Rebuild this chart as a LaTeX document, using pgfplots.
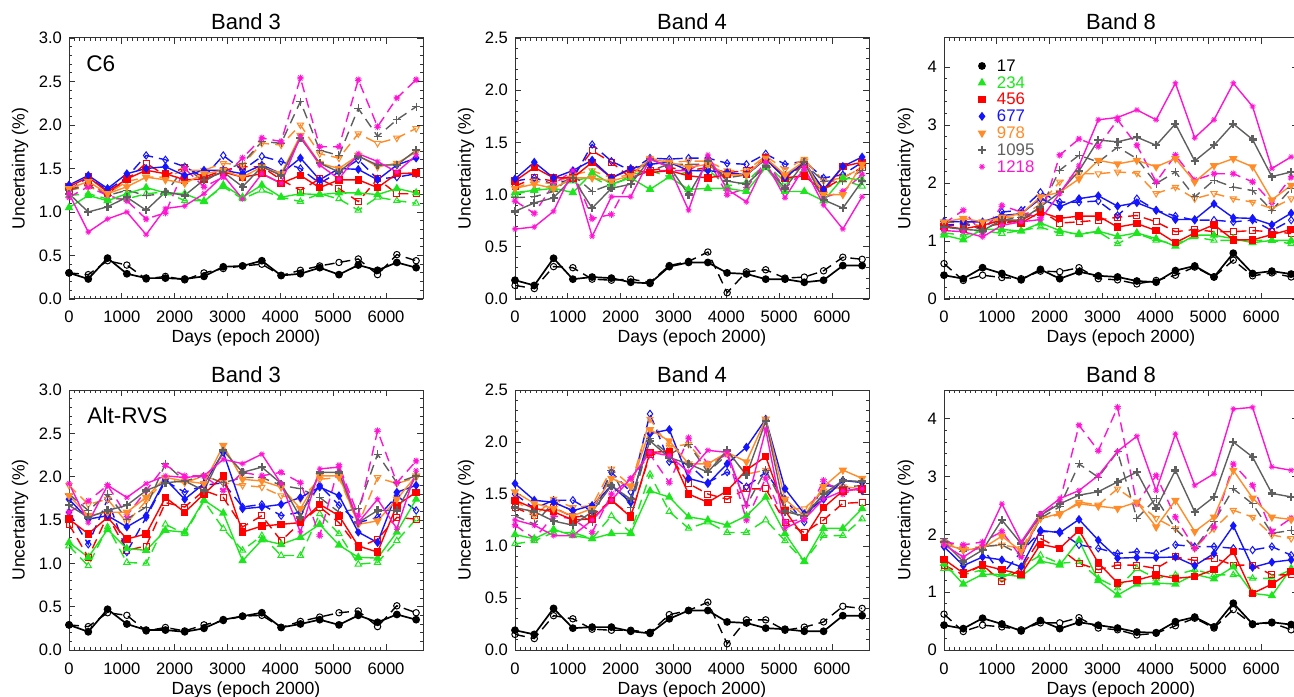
\documentclass[border=0pt]{standalone}
\usepackage{fontspec}
\setmainfont{Liberation Sans}
\usepackage{pgfplots}
\usepackage{pgfplotstable}
\pgfplotsset{compat=1.18}

\definecolor{c17}{RGB}{0,0,0}
\definecolor{c234}{RGB}{30,230,30}
\definecolor{c456}{RGB}{255,0,0}
\definecolor{c677}{RGB}{20,20,255}
\definecolor{c978}{RGB}{255,140,40}
\definecolor{c1095}{RGB}{95,95,95}
\definecolor{c1218}{RGB}{255,20,210}

% one row per series, transposed below
\pgfplotstableread{
series c0 c1 c2 c3 c4 c5 c6 c7 c8 c9 c10 c11 c12 c13 c14 c15 c16 c17 c18
d 0 365 730 1095 1460 1825 2190 2555 2920 3285 3650 4015 4380 4745 5110 5475 5840 6205 6570
s17 0.30 0.23 0.47 0.29 0.24 0.24 0.23 0.26 0.37 0.38 0.44 0.27 0.29 0.36 0.28 0.39 0.33 0.42 0.36
o17 0.30 0.28 0.44 0.39 0.23 0.26 0.22 0.30 0.35 0.38 0.40 0.27 0.33 0.38 0.42 0.46 0.28 0.51 0.44
s234 1.05 1.19 1.13 1.21 1.28 1.22 1.21 1.12 1.31 1.17 1.31 1.17 1.21 1.20 1.22 1.22 1.20 1.27 1.22
o234 1.19 1.21 1.15 1.15 1.21 1.23 1.13 1.13 1.29 1.15 1.25 1.17 1.12 1.21 1.15 1.02 1.17 1.13 1.10
s456 1.29 1.40 1.23 1.38 1.48 1.44 1.37 1.38 1.46 1.40 1.44 1.33 1.42 1.28 1.37 1.37 1.28 1.44 1.45
o456 1.25 1.33 1.21 1.37 1.56 1.42 1.51 1.40 1.48 1.52 1.52 1.37 1.25 1.38 1.27 1.12 1.38 1.21 1.21
s677 1.31 1.42 1.27 1.44 1.50 1.52 1.42 1.48 1.48 1.44 1.54 1.44 1.62 1.37 1.50 1.49 1.37 1.54 1.62
o677 1.25 1.40 1.25 1.40 1.65 1.60 1.52 1.40 1.65 1.48 1.64 1.58 1.50 1.33 1.46 1.60 1.38 1.40 1.44
s978 1.27 1.35 1.21 1.29 1.40 1.37 1.33 1.44 1.48 1.40 1.52 1.44 1.88 1.56 1.50 1.65 1.52 1.56 1.69
o978 1.25 1.29 1.21 1.35 1.40 1.40 1.48 1.48 1.56 1.54 1.79 1.77 2.00 1.67 1.62 1.90 1.79 1.85 1.96
s1095 1.21 1.00 1.06 1.17 1.02 1.23 1.19 1.37 1.46 1.29 1.52 1.42 1.85 1.56 1.46 1.64 1.54 1.54 1.71
o1095 1.25 1.31 1.19 1.25 1.19 1.21 1.52 1.35 1.48 1.56 1.81 1.79 2.27 1.71 1.65 2.19 1.87 2.06 2.21
s1218 1.21 0.77 0.92 1.00 0.74 1.04 1.07 1.21 1.42 1.15 1.44 1.33 1.87 1.54 1.38 1.67 1.58 1.46 1.65
o1218 1.17 1.29 1.19 1.13 0.92 0.99 1.50 1.29 1.40 1.62 1.85 1.81 2.54 1.75 1.75 2.52 1.98 2.31 2.52
}\rawA

\pgfplotstableread{
series c0 c1 c2 c3 c4 c5 c6 c7 c8 c9 c10 c11 c12 c13 c14 c15 c16 c17 c18
d 0 365 730 1095 1460 1825 2190 2555 2920 3285 3650 4015 4380 4745 5110 5475 5840 6205 6570
s17 0.18 0.13 0.39 0.19 0.21 0.20 0.16 0.15 0.31 0.35 0.35 0.25 0.24 0.19 0.19 0.16 0.18 0.32 0.32
o17 0.13 0.10 0.31 0.30 0.19 0.18 0.19 0.16 0.32 0.36 0.45 0.06 0.26 0.28 0.20 0.21 0.27 0.40 0.38
s234 1.02 1.04 1.06 1.02 1.21 1.10 1.16 1.05 1.17 1.05 1.06 1.06 1.03 1.26 1.03 1.03 0.94 1.16 1.14
o234 1.00 1.05 1.09 1.13 1.17 1.07 1.19 1.23 1.17 1.22 1.24 1.08 1.12 1.30 1.12 1.24 1.05 1.14 1.08
s456 1.13 1.26 1.16 1.16 1.31 1.16 1.24 1.21 1.23 1.18 1.16 1.19 1.19 1.35 1.16 1.18 1.03 1.27 1.31
o456 1.08 1.16 1.13 1.18 1.42 1.31 1.16 1.23 1.26 1.23 1.26 1.21 1.23 1.34 1.16 1.29 1.05 1.16 1.26
s677 1.15 1.31 1.16 1.23 1.33 1.16 1.25 1.29 1.31 1.23 1.23 1.21 1.19 1.34 1.16 1.31 1.05 1.27 1.36
o677 1.13 1.16 1.10 1.15 1.48 1.32 1.23 1.35 1.34 1.35 1.35 1.30 1.29 1.39 1.29 1.32 1.16 1.19 1.31
s978 1.06 1.10 1.06 1.16 1.16 1.13 1.18 1.34 1.31 1.26 1.29 1.19 1.19 1.35 1.19 1.32 1.00 1.00 1.29
o978 1.06 1.13 1.10 1.19 1.23 1.16 1.19 1.35 1.31 1.32 1.32 1.23 1.23 1.37 1.24 1.34 1.13 1.16 1.26
s1095 0.84 0.92 0.97 1.16 0.87 1.06 1.10 1.34 1.27 1.00 1.32 1.13 1.10 1.27 1.06 1.31 0.95 0.87 1.13
o1095 0.97 0.98 1.03 1.19 1.03 1.10 1.16 1.23 1.29 1.29 1.29 1.16 1.19 1.34 1.19 1.29 1.13 1.13 1.23
s1218 0.67 0.69 0.84 1.23 0.60 0.98 0.98 1.34 1.26 0.85 1.38 1.05 0.93 1.31 0.97 1.26 0.90 0.67 0.98
o1218 0.94 0.82 1.10 1.23 0.77 0.81 1.16 1.23 1.23 1.23 1.34 1.00 1.06 1.32 1.06 1.23 0.97 1.03 1.19
}\rawB

\pgfplotstableread{
series c0 c1 c2 c3 c4 c5 c6 c7 c8 c9 c10 c11 c12 c13 c14 c15 c16 c17 c18
d 0 365 730 1095 1460 1825 2190 2555 2920 3285 3650 4015 4380 4745 5110 5475 5840 6205 6570
s17 0.41 0.35 0.54 0.44 0.33 0.51 0.35 0.47 0.40 0.38 0.31 0.29 0.49 0.57 0.38 0.79 0.44 0.48 0.43
o17 0.61 0.32 0.41 0.37 0.35 0.48 0.47 0.54 0.35 0.33 0.26 0.32 0.41 0.55 0.38 0.67 0.40 0.45 0.38
s234 1.10 1.02 1.20 1.20 1.17 1.31 1.18 1.11 1.17 1.08 1.14 1.04 0.91 1.10 1.10 1.04 0.97 1.01 1.01
o234 1.14 1.10 1.18 1.13 1.18 1.24 1.13 1.13 1.16 0.95 1.13 1.01 0.95 1.07 1.01 1.01 1.01 1.01 0.95
s456 1.25 1.21 1.27 1.36 1.31 1.50 1.39 1.43 1.43 1.24 1.30 1.18 0.97 1.14 1.28 1.02 1.02 1.11 1.20
o456 1.24 1.30 1.24 1.30 1.36 1.53 1.31 1.33 1.36 1.41 1.44 1.33 1.16 1.20 1.16 1.16 1.18 1.16 1.13
s677 1.34 1.33 1.33 1.44 1.47 1.73 1.59 1.73 1.78 1.60 1.66 1.53 1.37 1.37 1.64 1.40 1.39 1.28 1.48
o677 1.27 1.30 1.21 1.50 1.53 1.84 1.67 1.67 1.69 1.44 1.73 1.53 1.43 1.36 1.36 1.33 1.36 1.18 1.36
s978 1.33 1.39 1.33 1.41 1.47 1.76 1.84 2.07 2.39 2.33 2.39 2.28 2.42 2.02 2.30 2.42 2.28 1.71 1.96
o978 1.30 1.36 1.24 1.41 1.41 1.64 2.02 2.16 2.16 2.19 2.17 1.82 1.93 1.73 1.82 1.73 1.67 1.56 1.73
s1095 1.24 1.20 1.18 1.36 1.36 1.59 1.84 2.21 2.74 2.71 2.79 2.65 3.02 2.38 2.65 3.02 2.75 2.11 2.19
o1095 1.33 1.33 1.18 1.36 1.41 1.56 2.22 2.48 2.36 2.62 2.42 1.99 2.19 1.76 2.05 1.93 1.87 1.53 1.90
s1218 1.18 1.16 1.07 1.27 1.33 1.37 1.82 2.30 3.09 3.13 3.26 3.09 3.72 2.78 3.09 3.72 3.32 2.25 2.45
o1218 1.30 1.53 1.13 1.61 1.50 1.39 2.48 2.76 2.63 3.09 2.65 2.02 2.48 2.05 2.16 2.16 2.02 1.66 2.10
}\rawC

\pgfplotstableread{
series c0 c1 c2 c3 c4 c5 c6 c7 c8 c9 c10 c11 c12 c13 c14 c15 c16 c17 c18
d 0 365 730 1095 1460 1825 2190 2555 2920 3285 3650 4015 4380 4745 5110 5475 5840 6205 6570
s17 0.29 0.21 0.47 0.30 0.23 0.23 0.21 0.25 0.35 0.39 0.43 0.26 0.30 0.35 0.29 0.40 0.32 0.41 0.35
o17 0.29 0.27 0.43 0.40 0.22 0.26 0.22 0.29 0.34 0.39 0.40 0.26 0.33 0.38 0.43 0.45 0.27 0.51 0.43
s234 1.24 1.07 1.39 1.17 1.15 1.38 1.36 1.73 1.58 1.03 1.27 1.22 1.30 1.45 1.21 1.07 1.06 1.36 1.74
o234 1.20 0.97 1.42 1.01 1.00 1.45 1.34 1.72 1.40 1.15 1.32 1.09 1.09 1.57 1.34 0.99 1.01 1.26 1.51
s456 1.51 1.34 1.53 1.28 1.34 1.76 1.59 1.80 2.01 1.36 1.43 1.45 1.47 1.68 1.55 1.20 1.13 1.67 1.82
o456 1.45 1.07 1.55 1.15 1.20 1.70 1.65 1.84 1.76 1.42 1.55 1.26 1.47 1.65 1.47 1.18 1.28 1.53 1.51
s677 1.74 1.51 1.55 1.42 1.55 1.97 1.74 1.92 2.28 1.63 1.65 1.68 1.76 1.88 1.78 1.36 1.24 1.82 1.90
o677 1.59 1.22 1.74 1.13 1.53 1.95 1.82 1.90 1.93 1.65 1.68 1.55 1.59 1.90 1.67 1.47 1.53 1.78 1.61
s978 1.78 1.55 1.59 1.59 1.76 1.99 1.95 1.92 2.36 1.97 1.95 1.88 1.63 2.01 2.01 1.45 1.49 1.74 2.01
o978 1.90 1.68 1.74 1.47 1.72 1.97 1.93 2.01 1.93 1.90 1.88 1.78 1.74 1.97 1.99 1.45 1.99 1.92 1.99
s1095 1.67 1.53 1.61 1.67 1.84 1.93 1.95 1.84 2.30 2.05 2.11 1.92 1.53 2.05 2.05 1.47 1.61 1.61 2.01
o1095 1.80 1.61 1.80 1.51 1.65 2.15 1.95 2.01 1.93 1.99 1.99 1.90 1.86 1.76 1.59 1.63 2.26 1.93 2.01
s1218 1.92 1.47 1.90 1.76 1.92 2.01 1.99 2.01 2.20 2.15 2.26 1.92 1.36 2.09 2.11 1.47 1.74 1.40 2.07
o1218 1.59 1.72 1.90 1.55 1.84 2.13 2.01 2.01 1.84 2.05 2.01 2.05 1.93 1.32 2.13 1.55 2.53 1.93 2.18
}\rawD

\pgfplotstableread{
series c0 c1 c2 c3 c4 c5 c6 c7 c8 c9 c10 c11 c12 c13 c14 c15 c16 c17 c18
d 0 365 730 1095 1460 1825 2190 2555 2920 3285 3650 4015 4380 4745 5110 5475 5840 6205 6570
s17 0.19 0.15 0.40 0.21 0.22 0.22 0.18 0.16 0.30 0.38 0.38 0.27 0.26 0.21 0.20 0.18 0.18 0.33 0.33
o17 0.15 0.11 0.33 0.30 0.20 0.19 0.19 0.17 0.34 0.38 0.46 0.06 0.29 0.29 0.19 0.22 0.27 0.42 0.40
s234 1.11 1.07 1.16 1.10 1.07 1.12 1.12 1.53 1.47 1.28 1.25 1.20 1.29 1.47 1.12 0.85 1.17 1.17 1.36
o234 1.02 1.05 1.13 1.13 1.07 1.29 1.13 1.69 1.33 1.17 1.23 1.13 1.13 1.25 1.05 0.85 1.10 1.10 1.26
s456 1.44 1.36 1.33 1.25 1.26 1.44 1.28 1.90 1.91 1.50 1.42 1.53 1.73 1.86 1.34 1.08 1.37 1.53 1.55
o456 1.37 1.29 1.37 1.28 1.29 1.44 1.29 1.88 1.88 1.60 1.50 1.45 1.55 1.55 1.23 1.13 1.25 1.41 1.42
s677 1.60 1.44 1.42 1.34 1.39 1.58 1.42 2.08 2.12 1.65 1.60 1.79 1.95 2.22 1.55 1.31 1.45 1.63 1.61
o677 1.50 1.36 1.44 1.44 1.33 1.71 1.52 2.27 1.81 1.79 1.61 1.71 1.57 1.71 1.45 1.23 1.58 1.57 1.53
s978 1.52 1.41 1.36 1.29 1.36 1.65 1.57 2.12 2.01 1.79 1.79 1.90 1.81 2.22 1.45 1.29 1.57 1.73 1.65
o978 1.45 1.29 1.45 1.37 1.39 1.74 1.58 2.22 1.95 1.98 1.76 1.90 1.69 1.73 1.36 1.36 1.53 1.57 1.55
s1095 1.37 1.33 1.24 1.20 1.33 1.58 1.45 2.01 1.85 1.79 1.71 1.92 1.68 2.20 1.33 1.29 1.50 1.63 1.62
o1095 1.29 1.21 1.42 1.34 1.23 1.73 1.37 2.03 1.88 1.98 1.71 1.88 1.39 1.73 1.37 1.26 1.50 1.57 1.58
s1218 1.25 1.20 1.10 1.10 1.25 1.44 1.65 1.90 1.87 1.71 1.92 1.90 1.39 2.12 1.17 1.26 1.45 1.53 1.55
o1218 1.20 1.07 1.29 1.26 1.13 1.50 1.65 1.88 1.61 2.04 1.79 1.88 1.25 1.65 1.23 1.26 1.63 1.50 1.57
}\rawE

\pgfplotstableread{
series c0 c1 c2 c3 c4 c5 c6 c7 c8 c9 c10 c11 c12 c13 c14 c15 c16 c17 c18
d 0 365 730 1095 1460 1825 2190 2555 2920 3285 3650 4015 4380 4745 5110 5475 5840 6205 6570
s17 0.43 0.37 0.55 0.45 0.33 0.51 0.37 0.48 0.43 0.38 0.31 0.30 0.49 0.57 0.40 0.81 0.45 0.48 0.44
o17 0.62 0.32 0.43 0.40 0.35 0.47 0.47 0.56 0.38 0.35 0.26 0.29 0.42 0.55 0.38 0.70 0.44 0.47 0.35
s234 1.50 1.14 1.31 1.31 1.27 1.54 1.47 1.90 1.20 0.95 1.14 1.16 1.14 1.31 1.23 1.44 0.98 0.94 1.41
o234 1.41 1.30 1.39 1.24 1.44 1.64 1.50 1.53 1.24 1.07 1.41 1.24 1.30 1.39 1.30 1.30 1.24 1.24 1.39
s456 1.57 1.33 1.47 1.39 1.31 1.83 1.76 2.07 1.51 1.16 1.21 1.30 1.24 1.27 1.39 1.70 0.98 1.14 1.36
o456 1.47 1.30 1.47 1.18 1.41 1.93 1.76 1.50 1.39 1.47 1.47 1.41 1.61 1.55 1.59 1.47 1.47 1.30 1.30
s677 1.79 1.46 1.61 1.56 1.44 2.07 2.03 2.26 1.90 1.59 1.60 1.60 1.61 1.46 1.67 2.15 1.43 1.52 1.56
o677 1.84 1.73 1.76 1.30 1.70 2.05 2.05 1.82 1.76 1.67 1.70 1.67 1.82 1.79 1.79 1.76 1.73 1.79 1.64
s978 1.84 1.73 1.76 1.97 1.71 2.28 2.36 2.53 2.49 2.45 2.56 2.13 2.59 2.05 2.30 3.11 2.63 2.30 2.26
o978 1.87 1.76 1.79 1.82 1.76 2.28 2.34 2.56 2.51 2.79 2.56 2.28 2.10 1.76 2.10 2.42 2.30 1.99 1.93
s1095 1.87 1.53 1.73 2.25 1.84 2.33 2.53 2.68 2.74 2.91 3.08 2.45 3.11 2.39 2.65 3.60 3.34 2.71 2.65
o1095 1.93 1.70 1.79 1.82 1.64 2.28 2.48 3.22 2.99 3.43 2.28 2.62 2.10 1.76 2.22 2.79 2.53 2.02 2.07
s1218 1.82 1.61 1.82 2.53 1.87 2.36 2.62 2.76 3.02 3.44 3.70 2.76 3.74 2.85 3.05 4.17 4.20 3.17 3.11
o1218 1.87 1.82 1.87 2.05 1.61 2.33 2.56 3.89 3.45 4.20 2.53 3.02 2.30 1.76 2.13 3.22 2.85 2.05 2.28
}\rawF

\pgfplotstabletranspose[colnames from=series]{\tabA}{\rawA}
\pgfplotstabletranspose[colnames from=series]{\tabB}{\rawB}
\pgfplotstabletranspose[colnames from=series]{\tabC}{\rawC}
\pgfplotstabletranspose[colnames from=series]{\tabD}{\rawD}
\pgfplotstabletranspose[colnames from=series]{\tabE}{\rawE}
\pgfplotstabletranspose[colnames from=series]{\tabF}{\rawF}

\pgfplotsset{
  sl/.style={solid, line width=0.7pt},
  dl/.style={line width=0.7pt, dash pattern=on 5pt off 3pt},
  s17/.style={sl, c17, line width=0.85pt, mark=*, mark size=1.5pt},
  o17/.style={dl, c17, mark=o, mark size=1.6pt, mark options={solid, line width=0.5pt}},
  s234/.style={sl, c234, mark=triangle*, mark size=1.8pt},
  o234/.style={dl, c234, mark=triangle, mark size=1.8pt, mark options={solid, line width=0.5pt}},
  s456/.style={sl, c456, mark=square*, mark size=1.5pt},
  o456/.style={dl, c456, mark=square, mark size=1.5pt, mark options={solid, line width=0.5pt}},
  s677/.style={sl, c677, mark=diamond*, mark size=1.7pt},
  o677/.style={dl, c677, mark=diamond, mark size=1.8pt, mark options={solid, line width=0.5pt}},
  s978/.style={sl, c978, mark=triangle*, mark size=1.8pt, mark options={rotate=180}},
  o978/.style={dl, c978, mark=triangle, mark size=1.8pt, mark options={solid, rotate=180, line width=0.5pt}},
  s1095/.style={sl, c1095, mark=+, mark size=2pt, mark options={line width=1.2pt}},
  o1095/.style={dl, c1095, mark=+, mark size=2pt, mark options={solid, line width=0.5pt}},
  s1218/.style={sl, c1218, mark=10-pointed star, mark size=1.5pt, mark options={fill=c1218, line width=0.3pt}},
  o1218/.style={dl, c1218, mark=10-pointed star, mark size=1.7pt, mark options={solid, fill=white, line width=0.4pt}},
  legimg/.style={legend image code/.code={\draw[##1] plot coordinates {(0pt,0pt)};}},
  panel/.style={
    scale only axis, width=177pt, height=130.5pt, anchor=south west,
    xmin=0, xmax=6700, xtick={0,1000,...,6000},
    minor x tick num=9, minor y tick num=4,
    tick align=inside, major tick length=3pt, minor tick length=1.5pt,
    axis line style={black!80, line width=0.5pt},
    tick style={black!80, line width=0.4pt},
    scaled x ticks=false,
    /pgf/number format/1000 sep={},
    /pgf/number format/assume math mode=true,
    ticklabel style={font=\fontsize{8.3}{9}\selectfont},
    xticklabel style={anchor=base, yshift=-12pt, inner sep=0pt},
    xlabel={Days (epoch 2000)}, ylabel={Uncertainty (\%)},
    label style={font=\fontsize{8.8}{10}\selectfont},
    xlabel style={at={(axis description cs:0.5,0)}, anchor=base, yshift=-22pt, inner sep=0pt},
    ylabel style={at={(axis description cs:-0.138,0.5)}, anchor=center, inner sep=0pt},
    title style={font=\fontsize{11}{12}\selectfont, at={(axis description cs:0.5,1)}, anchor=base, yshift=-2pt, inner sep=0pt},
  },
  b3/.style={ymin=0, ymax=3, ytick={0,0.5,1,1.5,2,2.5,3},
    yticklabel style={/pgf/number format/.cd, fixed, fixed zerofill, precision=1}},
  b4/.style={ymin=0, ymax=2.5, ytick={0,0.5,1,1.5,2,2.5},
    yticklabel style={/pgf/number format/.cd, fixed, fixed zerofill, precision=1}},
  b8/.style={ymin=0, ymax=4.5, ytick={0,1,2,3,4},
    ylabel style={at={(axis description cs:-0.108,0.5)}}},
}

\newcommand{\allseries}[1]{%
  \addplot[o234] table[x=d,y=o234]{#1};
  \addplot[o456] table[x=d,y=o456]{#1};
  \addplot[o677] table[x=d,y=o677]{#1};
  \addplot[o978] table[x=d,y=o978]{#1};
  \addplot[o1095] table[x=d,y=o1095]{#1};
  \addplot[o1218] table[x=d,y=o1218]{#1};
  \addplot[o17] table[x=d,y=o17]{#1};
  \addplot[s234] table[x=d,y=s234]{#1};
  \addplot[s456] table[x=d,y=s456]{#1};
  \addplot[s677] table[x=d,y=s677]{#1};
  \addplot[s978] table[x=d,y=s978]{#1};
  \addplot[s1095] table[x=d,y=s1095]{#1};
  \addplot[s1218] table[x=d,y=s1218]{#1};
  \addplot[s17] table[x=d,y=s17]{#1};
}

\begin{document}
\begin{tikzpicture}
\useasboundingbox (0,0) rectangle (647pt,348pt);

% top row
\begin{axis}[panel, b3, at={(34.5pt,198.5pt)}, title={Band 3}]
  \allseries{\tabA}
  \node[anchor=base west, inner sep=0pt, font=\fontsize{11.3}{12}\selectfont]
    at (axis description cs:0.048,0.871) {C6};
\end{axis}

\begin{axis}[panel, b4, at={(257.5pt,198.5pt)}, title={Band 4}]
  \allseries{\tabB}
\end{axis}

\begin{axis}[panel, b8, at={(472pt,198.5pt)}, title={Band 8},
  legend cell align=left,
  legend style={draw=none, fill=white, at={(axis description cs:0.096,0.925)},
    anchor=north west, inner sep=0pt, outer sep=0pt,
    font=\fontsize{8.4}{9}\selectfont, row sep=0pt, column sep=4.5pt,
    nodes={inner sep=1pt, text height=5.9pt, text depth=0.5pt}}]
  \addlegendimage{s17, legimg}\addlegendentry{\textcolor{c17}{17}}
  \addlegendimage{s234, legimg}\addlegendentry{\textcolor{c234}{234}}
  \addlegendimage{s456, legimg}\addlegendentry{\textcolor{c456}{456}}
  \addlegendimage{s677, legimg}\addlegendentry{\textcolor{c677}{677}}
  \addlegendimage{s978, legimg}\addlegendentry{\textcolor{c978}{978}}
  \addlegendimage{s1095, legimg}\addlegendentry{\textcolor{c1095}{1095}}
  \addlegendimage{s1218, legimg}\addlegendentry{\textcolor{c1218}{1218}}
  \allseries{\tabC}
\end{axis}

% bottom row
\begin{axis}[panel, b3, height=130pt, at={(34.5pt,23pt)}, title={Band 3}]
  \allseries{\tabD}
  \node[anchor=base west, inner sep=0pt, font=\fontsize{11.3}{12}\selectfont]
    at (axis description cs:0.051,0.872) {Alt-RVS};
\end{axis}

\begin{axis}[panel, b4, height=130pt, at={(257.5pt,23pt)}, title={Band 4}]
  \allseries{\tabE}
\end{axis}

\begin{axis}[panel, b8, height=130pt, at={(472pt,23pt)}, title={Band 8}]
  \allseries{\tabF}
\end{axis}
\end{tikzpicture}
\end{document}
